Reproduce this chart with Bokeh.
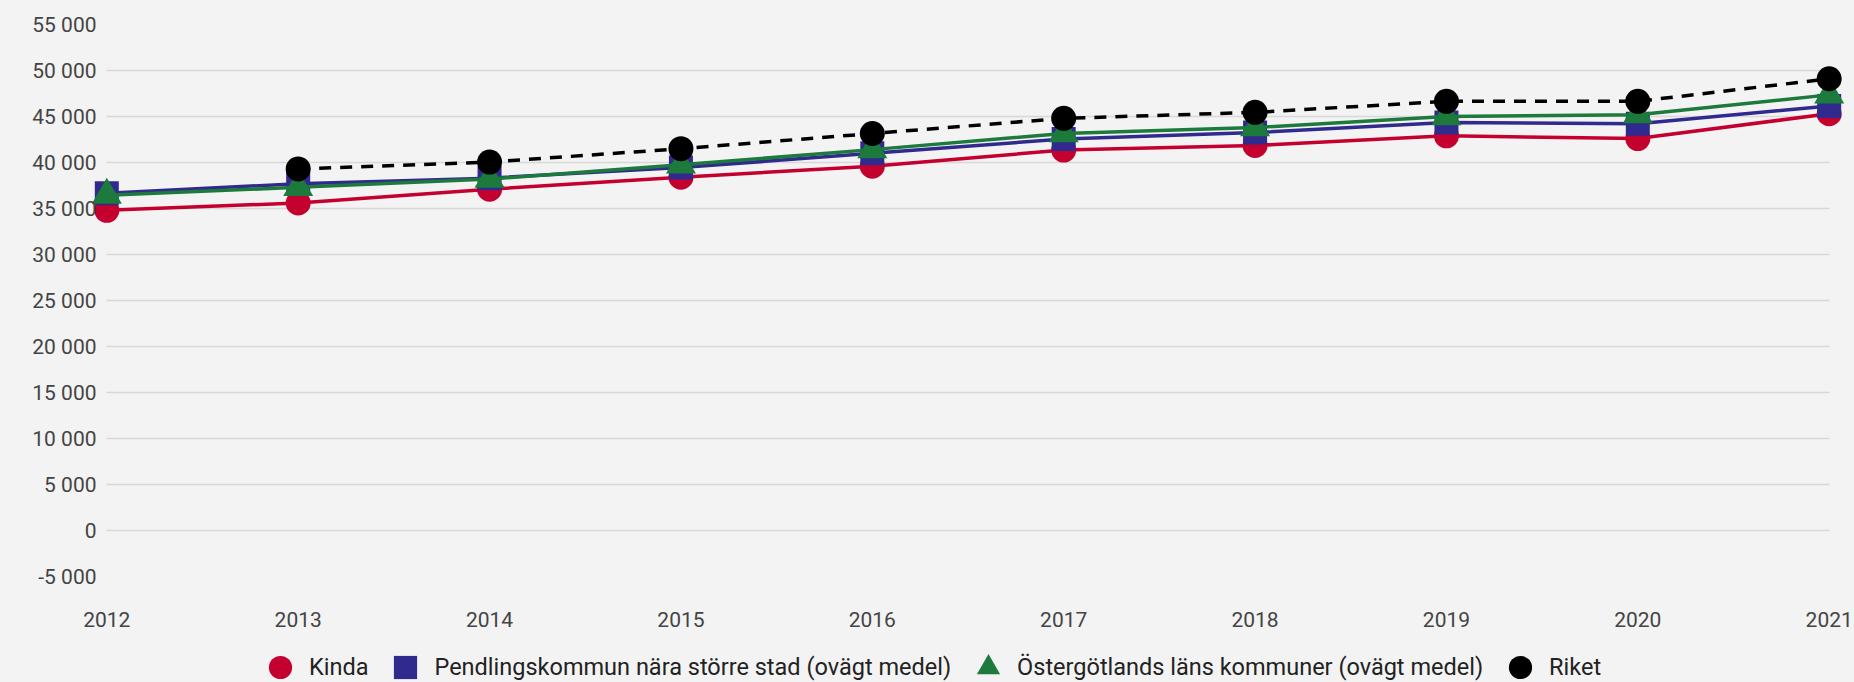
from bokeh.plotting import figure
from bokeh.layouts import column
from bokeh.models import Range1d, FixedTicker, Legend, LegendItem, ColumnDataSource
from bokeh.embed import file_html
from bokeh.resources import INLINE

# ---- data ----
years = [2012, 2013, 2014, 2015, 2016, 2017, 2018, 2019, 2020, 2021]
kinda = [34800, 35600, 37100, 38400, 39600, 41350, 41850, 42900, 42600, 45300]
pendling = [36650, 37700, 38300, 39450, 41000, 42550, 43250, 44350, 44200, 46150]
ostergotland = [36450, 37300, 38200, 39750, 41400, 43150, 43800, 45000, 45200, 47350]
riket = [float("nan"), 39300, 40050, 41500, 43150, 44800, 45450, 46650, 46650, 49100]

series_names = [
    "Kinda",
    "Pendlingskommun nära större stad (ovägt medel)",
    "Östergötlands läns kommuner (ovägt medel)",
    "Riket",
]
series_values = [kinda, pendling, ostergotland, riket]

ytick_values = [-5000, 0, 5000, 10000, 15000, 20000, 25000, 30000, 35000,
                40000, 45000, 50000, 55000]
ytick_labels = ["-5 000", "0", "5 000", "10 000", "15 000", "20 000", "25 000",
                "30 000", "35 000", "40 000", "45 000", "50 000", "55 000"]
xtick_labels = [str(y) for y in years]

# ---- style ----
colors = ["#c4002f", "#312a8e", "#1b7a3c", "#000000"]
markers = ["circle", "square", "triangle", "circle"]
marker_sizes = [25, 24, 30, 25]
dashes = ["solid", "solid", "solid", "12 9"]
FONT = "Roboto"
BG = "#f3f3f3"

x_pad = 0.08
p = figure(
    width=1854, height=640,
    x_range=Range1d(years[0] - x_pad, years[-1] + x_pad),
    y_range=Range1d(ytick_values[0], ytick_values[-1]),
    output_backend="svg", toolbar_location=None,
    min_border_left=91, min_border_right=10, min_border_top=24, min_border_bottom=64,
    background_fill_color=BG, border_fill_color=BG,
)
p.outline_line_color = None

# axes
p.xaxis.ticker = FixedTicker(ticks=years)
p.xaxis.major_label_overrides = {y: s for y, s in zip(years, xtick_labels)}
p.yaxis.ticker = FixedTicker(ticks=ytick_values)
p.yaxis.major_label_overrides = {v: s for v, s in zip(ytick_values, ytick_labels)}
for ax in (p.xaxis[0], p.yaxis[0]):
    ax.axis_line_color = None
    ax.major_tick_line_color = None
    ax.minor_tick_line_color = None
    ax.major_tick_out = 0
    ax.major_tick_in = 0
    ax.major_label_text_font = FONT
    ax.major_label_text_font_size = "21px"
    ax.major_label_text_color = "#444444"
p.xaxis.major_label_standoff = 35
p.yaxis.major_label_standoff = -5

p.xgrid.visible = False
p.ygrid.ticker = FixedTicker(ticks=ytick_values)
p.ygrid.grid_line_color = "#d8d8d8"
p.ygrid.grid_line_width = 1.5
p.ygrid.cross_bounds = (years[0], years[-1])

sources = []
for name, vals, c, m, ms, d in zip(series_names, series_values, colors, markers, marker_sizes, dashes):
    src = ColumnDataSource(dict(x=years, y=vals))
    sources.append(src)
    p.line("x", "y", source=src, line_color=c, line_width=3.5, line_dash=d,
           line_join="round")
    p.scatter("x", "y", source=src, marker=m, size=ms, fill_color=c,
              line_color=c, line_width=0)

# ---- legend strip (its renderers share the series data, which lies outside this strip's view) ----
lp = figure(
    width=1854, height=42, x_range=Range1d(0, 1), y_range=Range1d(0, 1),
    x_axis_type=None, y_axis_type=None,
    output_backend="svg", toolbar_location=None,
    min_border_left=0, min_border_right=0, min_border_top=0, min_border_bottom=0,
    background_fill_color=BG, border_fill_color=BG,
)
lp.outline_line_color = None
lp.grid.visible = False
items = []
for name, src, c, m in zip(series_names, sources, colors, markers):
    r = lp.scatter("x", "y", source=src, marker=m, fill_color=c, line_color=c, line_width=0)
    items.append(LegendItem(label=name, renderers=[r], index=1))

legend = Legend(
    items=items, orientation="horizontal", location=(160, -14),
    glyph_width=58, glyph_height=58, label_standoff=0, spacing=8,
    padding=0, margin=0,
    label_text_font=FONT, label_text_font_size="23.5px", label_text_color="#222222",
    background_fill_alpha=0, border_line_alpha=0,
)
lp.add_layout(legend)

layout = column(p, lp, spacing=0, styles={"background-color": BG})
open("out.html", "w").write(file_html(layout, INLINE))
